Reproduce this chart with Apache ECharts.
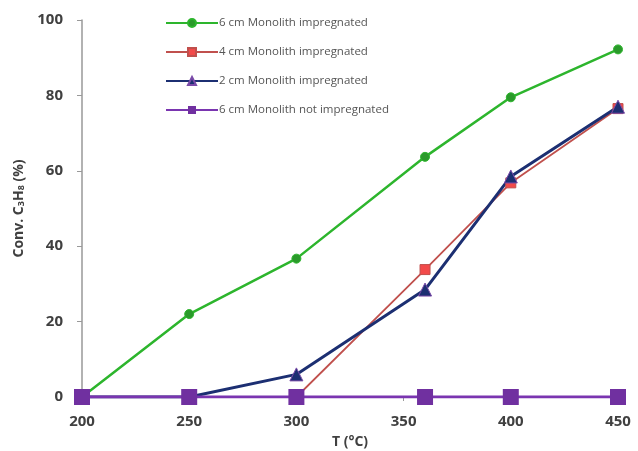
<!DOCTYPE html>
<html>
<head>
<meta charset="utf-8">
<script src="https://cdn.jsdelivr.net/npm/echarts@6/dist/echarts.min.js"></script>
<style>
  html, body { margin: 0; padding: 0; background: #fff; }
  #chart { width: 638px; height: 451px; }
</style>
</head>
<body>
<div id="chart"></div>
<script>
/* conversion vs temperature, monolith tests */
var temps = [200, 250, 300, 360, 400, 450];
var mono6 = [0, 22, 36.7, 63.7, 79.5, 92.2];
var mono4 = [0, 0, 0, 33.8, 56.8, 76.5];
var mono2 = [0, 0, 6, 28.5, 58.5, 77];
var mono6raw = [0, 0, 0, 0, 0, 0];
var names = ['6 cm Monolith impregnated', '4 cm Monolith impregnated', '2 cm Monolith impregnated', '6 cm Monolith not impregnated'];

function pairs(ys) {
  return temps.map(function (t, i) { return [t, ys[i]]; });
}

(function () {
  var font = 'Open Sans, Liberation Sans, sans-serif';
  var ink = '#404040';
  var c = echarts.init(document.getElementById('chart'), null, { renderer: 'canvas' });
  c.setOption({
    animation: false,
    grid: { left: 82, right: 20, top: 20, bottom: 54, outerBoundsMode: 'none', containLabel: false },
    legend: {
      orient: 'vertical', left: 160, top: 12, itemGap: 17,
      itemWidth: 52, itemHeight: 10,
      data: names,
      textStyle: { fontFamily: font, fontSize: 11.5, color: '#555', padding: [0, 0, 0, -4] }
    },
    xAxis: {
      type: 'value', min: 200, max: 450, interval: 50,
      name: 'T (°C)', nameLocation: 'middle', nameGap: 38,
      nameTextStyle: { fontFamily: font, fontSize: 14, fontWeight: 'bold', color: ink },
      axisLine: { lineStyle: { color: '#999', width: 1.5 } },
      axisTick: { show: true, length: 4, inside: false, lineStyle: { color: '#999' } },
      axisLabel: { margin: 17, fontFamily: font, fontSize: 15, fontWeight: 'bold', color: ink },
      splitLine: { show: false }
    },
    yAxis: {
      type: 'value', min: 0, max: 100, interval: 20,
      name: 'Conv. C{s|3}H{s|8} (%)', nameLocation: 'middle', nameGap: 48, nameRotate: 90,
      nameTextStyle: {
        fontFamily: font, fontSize: 14, fontWeight: 'bold', color: ink,
        rich: { s: { fontFamily: font, fontSize: 9, fontWeight: 'bold', color: ink, verticalAlign: 'bottom', padding: [6, 0, 0, 0] } }
      },
      axisLine: { show: true, lineStyle: { color: '#999', width: 1.5 } },
      axisTick: { show: true, length: 5, lineStyle: { color: '#999' } },
      axisLabel: { margin: 19, fontFamily: font, fontSize: 15, fontWeight: 'bold', color: ink },
      splitLine: { show: false }
    },
    series: [
      {
        name: names[0], type: 'line', data: pairs(mono6),
        symbol: 'circle', symbolSize: 9,
        lineStyle: { color: '#2db52d', width: 2.5 },
        itemStyle: { color: '#2a9a2a', borderColor: '#2db52d', borderWidth: 1 }
      },
      {
        name: names[1], type: 'line', data: pairs(mono4),
        symbol: 'rect', symbolSize: 10,
        lineStyle: { color: '#c0504d', width: 1.8 },
        itemStyle: { color: '#f24a4a', borderColor: '#c0504d', borderWidth: 1 }
      },
      {
        name: names[2], type: 'line', data: pairs(mono2),
        symbol: 'triangle', symbolSize: 13,
        lineStyle: { color: '#1c2f72', width: 3 },
        itemStyle: { color: '#1c2f72', borderColor: '#7a4aa8', borderWidth: 1 }
      },
      {
        name: names[3], type: 'line', data: pairs(mono6raw),
        symbol: 'rect', symbolSize: 16,
        lineStyle: { color: '#7a35b0', width: 3 },
        itemStyle: { color: '#7030a0' }
      }
    ]
  });
})();
</script>
</body>
</html>
